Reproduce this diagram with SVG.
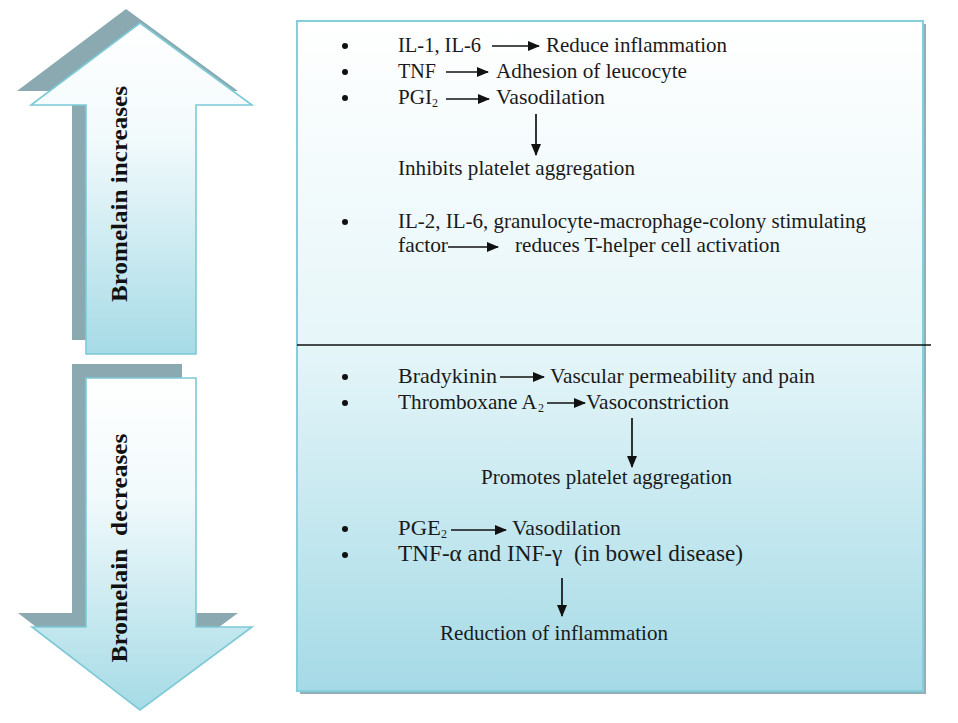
<svg xmlns="http://www.w3.org/2000/svg" width="958" height="723" viewBox="0 0 958 723">
<defs>
<linearGradient id="gArrow" x1="0" y1="0" x2="0" y2="1">
<stop offset="0" stop-color="#ffffff"/>
<stop offset="0.35" stop-color="#f2fafc"/>
<stop offset="1" stop-color="#a6dbe6"/>
</linearGradient>
<linearGradient id="gBox" x1="0" y1="0" x2="0" y2="1">
<stop offset="0" stop-color="#ffffff"/>
<stop offset="0.48" stop-color="#e6f6f9"/>
<stop offset="1" stop-color="#a5dae6"/>
</linearGradient>
<marker id="ah" viewBox="0 0 12 10" refX="11" refY="5" markerWidth="12" markerHeight="10" markerUnits="userSpaceOnUse" orient="auto">
<path d="M0,0 L12,5 L0,10 Z" fill="#111"/>
</marker>
<style>
.t{font-family:"Liberation Serif","Times New Roman",serif;font-size:21px;fill:#1a1a1a}
.tb{font-family:"Liberation Serif","Times New Roman",serif;font-size:23px;font-weight:bold;fill:#111}
.sub{font-family:"Liberation Serif","Times New Roman",serif;font-size:12px;fill:#1a1a1a}
.shadow{fill:#8aa9b1}
.arrowbody{fill:url(#gArrow);stroke:#7ccad7;stroke-width:1.6}
.conn{stroke:#111;stroke-width:1.7;fill:none;marker-end:url(#ah)}
.dot{fill:#111}
</style>
</defs>

<g id="arrow-increases">
<polygon class="shadow" points="126,9 238,91 182,91 182,340 72,340 72,91 17,91"/>
<polygon class="arrowbody" points="140,23 252,105 196,105 196,354 86,354 86,105 31,105"/>
<text class="tb" transform="translate(127,194) rotate(-90)" text-anchor="middle" textLength="216" lengthAdjust="spacingAndGlyphs">Bromelain increases</text>
</g>

<g id="arrow-decreases">
<polygon class="shadow" points="72,364 182,364 182,613 238,613 126,696 18,613 72,613"/>
<polygon class="arrowbody" points="86,378 196,378 196,627 252,627 140,710 32,627 86,627"/>
<text class="tb" transform="translate(127,548) rotate(-90)" text-anchor="middle" textLength="229" lengthAdjust="spacingAndGlyphs" xml:space="preserve">Bromelain  decreases</text>
</g>

<g id="effects-box">
<rect x="300" y="24" width="626" height="670" fill="#8fb0b6"/>
<rect x="297" y="21" width="626" height="670" fill="url(#gBox)" stroke="#84cfdb" stroke-width="2"/>
<line x1="297" y1="345" x2="931" y2="345" stroke="#111" stroke-width="1.6"/>
</g>

<g id="increases-list">
<circle class="dot" cx="345" cy="46" r="3"/>
<text class="t" x="398" y="52" textLength="83" lengthAdjust="spacingAndGlyphs">IL-1, IL-6</text>
<text class="t" x="546" y="52" textLength="181" lengthAdjust="spacingAndGlyphs">Reduce inflammation</text>
<circle class="dot" cx="345" cy="72" r="3"/>
<text class="t" x="398" y="78" textLength="38" lengthAdjust="spacingAndGlyphs">TNF</text>
<text class="t" x="496" y="78" textLength="191" lengthAdjust="spacingAndGlyphs">Adhesion of leucocyte</text>
<circle class="dot" cx="345" cy="98" r="3"/>
<text class="t" x="398" y="104" textLength="34" lengthAdjust="spacingAndGlyphs">PGI</text>
<text class="sub" x="432" y="107">2</text>
<text class="t" x="496" y="104" textLength="109" lengthAdjust="spacingAndGlyphs">Vasodilation</text>
<text class="t" x="398" y="175" textLength="237" lengthAdjust="spacingAndGlyphs">Inhibits platelet aggregation</text>
<circle class="dot" cx="345" cy="222" r="3"/>
<text class="t" x="398" y="228" textLength="468" lengthAdjust="spacingAndGlyphs">IL-2, IL-6, granulocyte-macrophage-colony stimulating</text>
<text class="t" x="398" y="252" textLength="50" lengthAdjust="spacingAndGlyphs">factor</text>
<text class="t" x="515" y="252" textLength="265" lengthAdjust="spacingAndGlyphs">reduces T-helper cell activation</text>
</g>

<g id="decreases-list">
<circle class="dot" cx="345" cy="377" r="3"/>
<text class="t" x="398" y="383" textLength="99" lengthAdjust="spacingAndGlyphs">Bradykinin</text>
<text class="t" x="550" y="383" textLength="265" lengthAdjust="spacingAndGlyphs">Vascular permeability and pain</text>
<circle class="dot" cx="345" cy="403" r="3"/>
<text class="t" x="398" y="409" textLength="139" lengthAdjust="spacingAndGlyphs">Thromboxane A</text>
<text class="sub" x="538" y="412">2</text>
<text class="t" x="586" y="409" textLength="143" lengthAdjust="spacingAndGlyphs">Vasoconstriction</text>
<text class="t" x="481" y="484" textLength="251" lengthAdjust="spacingAndGlyphs">Promotes platelet aggregation</text>
<circle class="dot" cx="345" cy="529" r="3"/>
<text class="t" x="398" y="535" textLength="43" lengthAdjust="spacingAndGlyphs">PGE</text>
<text class="sub" x="441" y="538">2</text>
<text class="t" x="512" y="535" textLength="109" lengthAdjust="spacingAndGlyphs">Vasodilation</text>
<circle class="dot" cx="345" cy="555" r="3"/>
<text class="t" x="398" y="561" style="font-size:23px" textLength="345" lengthAdjust="spacingAndGlyphs" xml:space="preserve">TNF-α and INF-γ  (in bowel disease)</text>
<text class="t" x="440" y="640" textLength="228" lengthAdjust="spacingAndGlyphs">Reduction of inflammation</text>
</g>

<g id="connectors">
<line class="conn" x1="492" y1="46" x2="539" y2="46"/>
<line class="conn" x1="446" y1="72" x2="488" y2="72"/>
<line class="conn" x1="446" y1="99" x2="489" y2="99"/>
<line class="conn" x1="536" y1="114" x2="536" y2="155"/>
<line class="conn" x1="448" y1="247" x2="498" y2="247"/>
<line class="conn" x1="500" y1="377" x2="544" y2="377"/>
<line class="conn" x1="547" y1="403" x2="585" y2="403"/>
<line class="conn" x1="632" y1="418" x2="632" y2="467"/>
<line class="conn" x1="451" y1="530" x2="506" y2="530"/>
<line class="conn" x1="562" y1="578" x2="562" y2="616"/>
</g>
</svg>
